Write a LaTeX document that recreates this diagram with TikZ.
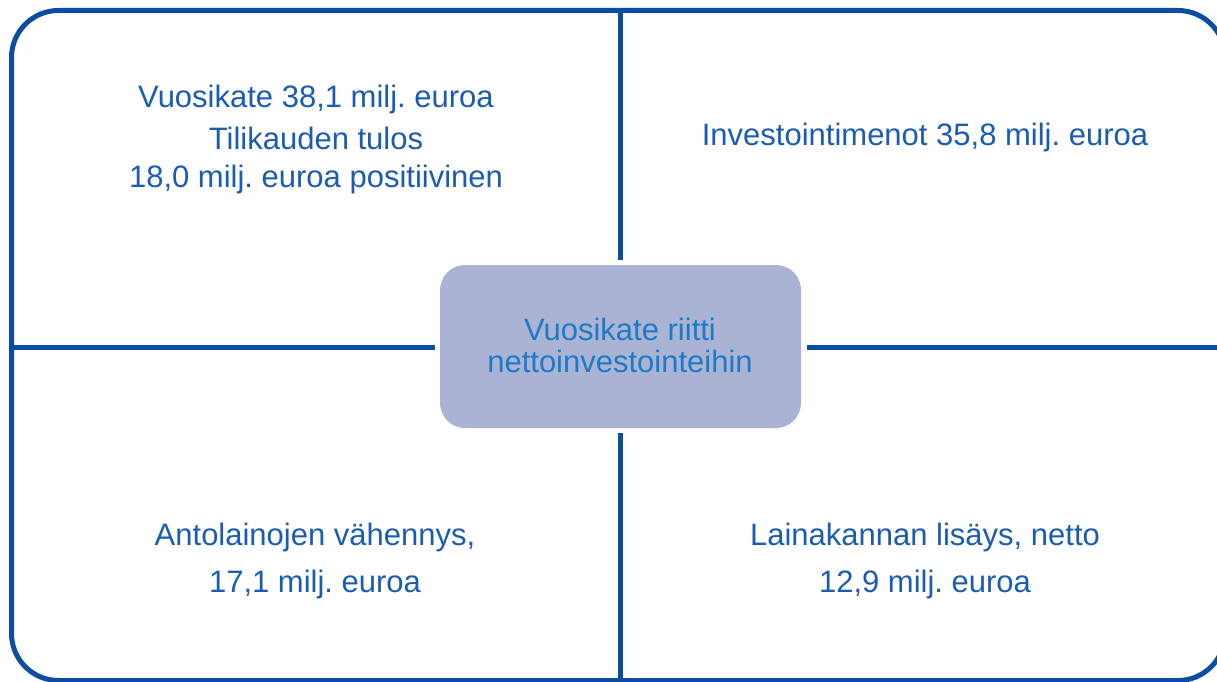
\documentclass[tikz,border=0pt]{standalone}
\usepackage{fontspec}
\setmainfont{Liberation Sans}
\frenchspacing
\definecolor{lineblue}{HTML}{0B4DA2}
\definecolor{textblue}{HTML}{1B5CB0}
\definecolor{hubtext}{HTML}{1C7AC6}
\definecolor{hubfill}{HTML}{AAB3D4}
\begin{document}
\begin{tikzpicture}[x=1pt,y=-1pt,
  frame/.style={draw=lineblue,line width=5pt,rounded corners=47pt},
  divider/.style={draw=lineblue,line width=5pt},
  label/.style={text=textblue,font=\fontsize{31}{36}\selectfont\frenchspacing,anchor=base,inner sep=0pt},
  hubbox/.style={fill=hubfill,rounded corners=25pt,minimum width=361pt,minimum height=163pt,inner sep=0pt}]
\useasboundingbox (0,0) rectangle (1217,682);
% frame
\draw[frame] (11.5,10.5) rectangle (1225,680.5);
% hub
\node[hubbox] (hub) at (620.5,346.5) {};
\coordinate (top) at (620,10.5);
\coordinate (bot) at (620,680.5);
\coordinate (lft) at (11.5,347);
\coordinate (rgt) at (1225,347);
\draw[divider,shorten >=5pt] (top) -- (hub.north -| top);
\draw[divider,shorten >=5pt] (bot) -- (hub.south -| bot);
\draw[divider,shorten >=5pt] (lft) -- (hub.west |- lft);
\draw[divider,shorten >=6pt] (rgt) -- (hub.east |- rgt);
\node[label,text=hubtext] (h1) at (620,340) {Vuosikate riitti};
\node[label,text=hubtext] (h2) at (620,372) {nettoinvestointeihin};
% texts
\node[label] (tl1) at (316,107) {Vuosikate 38,1 milj. euroa};
\node[label] (tl2) at (316,149) {Tilikauden tulos};
\node[label] (tl3) at (316,187) {18,0 milj. euroa positiivinen};
\node[label] (tr1) at (925,145) {Investointimenot 35,8 milj. euroa};
\node[label] (bl1) at (315,545) {Antolainojen vähennys,};
\node[label] (bl2) at (315,592) {17,1 milj. euroa};
\node[label] (br1) at (925,545) {Lainakannan lisäys, netto};
\node[label] (br2) at (925,592) {12,9 milj. euroa};
\end{tikzpicture}
\end{document}
